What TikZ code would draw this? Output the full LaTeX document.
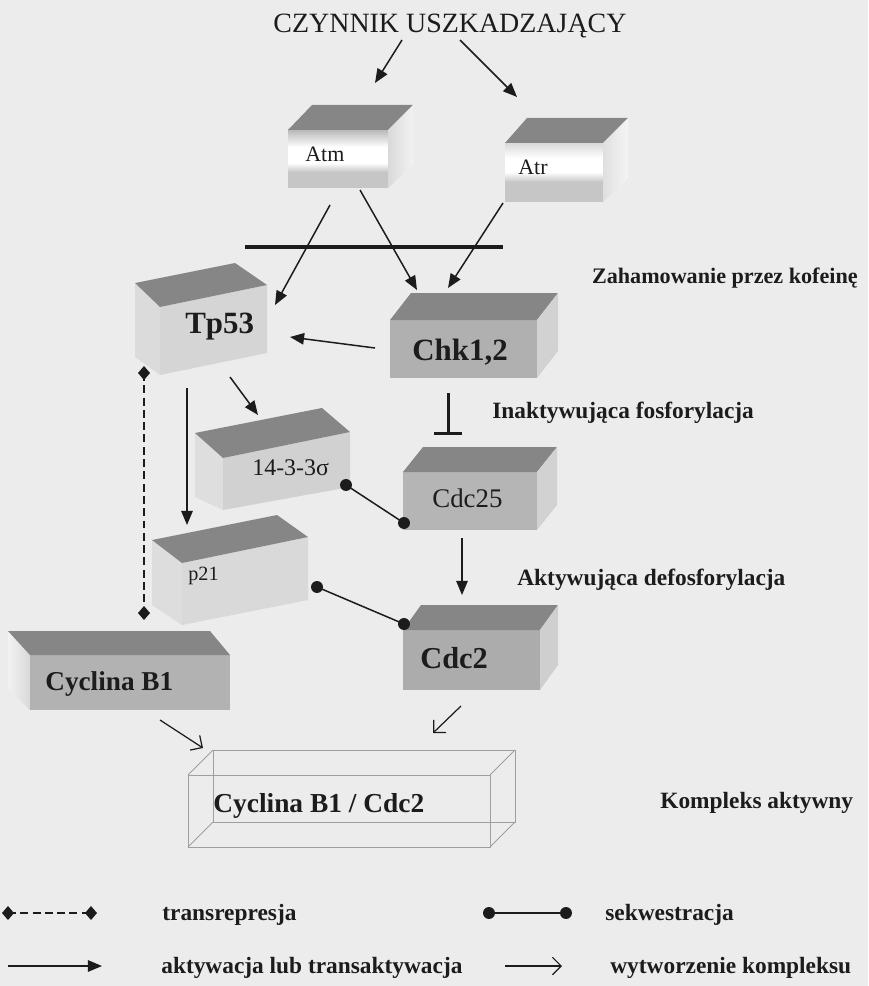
\documentclass[tikz,border=0pt]{standalone}
\usepackage{fontspec}
\setmainfont{Liberation Serif}
\usetikzlibrary{arrows.meta}
\definecolor{paper}{HTML}{ECECEC}
\definecolor{topc}{HTML}{868686}
\definecolor{ink}{HTML}{1C1C1C}
\newcommand{\fsz}[1]{\fontsize{#1}{#1}\selectfont}
% right-side cuboid: x1 y1 x2 y2 dx dy front side
\newcommand{\cubR}[8]{%
  \fill[#7] (#1,#2) rectangle (#3,#4);
  \fill[topc] (#1,#2) -- (#3,#2) -- ({#3+#5},{#2+#6}) -- ({#1+#5},{#2+#6}) -- cycle;
  \fill[#8] (#3,#2) -- ({#3+#5},{#2+#6}) -- ({#3+#5},{#4+#6}) -- (#3,#4) -- cycle;}
\begin{document}
\begin{tikzpicture}[x=0.02cm,y=-0.02cm,
  lbl/.style={inner sep=0pt, anchor=base west, text=ink},
  act/.style={draw=ink, line width=0.85pt, -{Triangle[length=8pt,width=6.5pt]}},
  cpx/.style={draw=ink, line width=0.7pt, -{Straight Barb[length=5pt,width=10pt]}},
  seqline/.style={draw=ink, line width=0.85pt},
  trans/.style={draw=ink, line width=0.8pt, dash pattern=on 4.5pt off 2.5pt},
  inhib/.style={draw=ink, line width=1.7pt, -{Bar[width=16pt]}},
  wire/.style={draw=gray!75, line width=0.45pt},
  rlab/.style={lbl, font=\fsz{13.3pt}\bfseries},
  dmd/.pic={\fill[ink] (0,-7) -- (6,0) -- (0,7) -- (-6,0) -- cycle;},
  dot/.pic={\fill[ink] (0,0) circle[radius=3.4pt];}
]
\fill[paper] (0,0) rectangle (868,986);
\useasboundingbox (0,0) rectangle (868,986);

% ---------- title ----------
\node[lbl, anchor=base] (title) at (450,33) {\fsz{15.9pt}CZYNNIK USZKADZAJĄCY};

% ---------- Atm ----------
\fill[white] (288,130) rectangle (388,188);
\shade[top color=gray!55, bottom color=white] (288,130) rectangle (388,147);
\shade[top color=white, bottom color=gray!45] (288,163) rectangle (388,172);
\fill[gray!45] (288,172) rectangle (388,188);
\fill[topc] (288,130) -- (388,130) -- (413,105) -- (312,105) -- cycle;
\shade[left color=gray!30, right color=gray!10] (388,130) -- (413,105) -- (413,165) -- (388,188) -- cycle;
\node[lbl, font=\fsz{12.5pt}] (atm) at (305,162) {Atm};

% ---------- Atr ----------
\fill[white] (505,143) rectangle (603,202);
\shade[top color=gray!30, bottom color=white] (505,143) rectangle (603,158);
\shade[top color=white, bottom color=gray!45] (505,172) rectangle (603,182);
\fill[gray!45] (505,182) rectangle (603,202);
\fill[topc] (505,143) -- (603,143) -- (628,118) -- (527,118) -- cycle;
\shade[left color=gray!25, right color=gray!8] (603,143) -- (628,118) -- (628,178) -- (603,202) -- cycle;
\node[lbl, font=\fsz{12.5pt}] (atr) at (518,175) {Atr};

% ---------- Tp53 (tilted) ----------
\fill[gray!28] (135,283) -- (160,307) -- (160,375) -- (135,357) -- cycle;
\fill[gray!33] (160,307) -- (267,285) -- (267,353) -- (160,375) -- cycle;
\fill[topc] (135,283) -- (235,263) -- (267,285) -- (160,307) -- cycle;
\node[lbl, font=\fsz{17.6pt}\bfseries] (tp53) at (185,333) {Tp53};

% ---------- Chk1,2 ----------
\cubR{390}{320}{537}{378}{21}{-27}{gray!62}{gray!35}
\node[lbl, font=\fsz{17.6pt}\bfseries] (chk) at (412,360) {Chk1,2};

% ---------- 14-3-3 sigma (tilted) ----------
\fill[gray!26] (195,433) -- (223,458) -- (223,510) -- (195,497) -- cycle;
\fill[gray!36] (223,458) -- (350,432) -- (350,487) -- (223,510) -- cycle;
\fill[topc] (195,433) -- (322,408) -- (350,432) -- (223,458) -- cycle;
\node[lbl, font=\fsz{13.6pt}] (s1433) at (252,475) {14-3-3σ};

% ---------- Cdc25 ----------
\cubR{403}{472}{537}{530}{20}{-25}{gray!58}{gray!35}
\node[lbl, font=\fsz{15.3pt}] (cdc25) at (432,507) {Cdc25};

% ---------- p21 (tilted) ----------
\fill[gray!27] (152,540) -- (182,563) -- (182,625) -- (152,605) -- cycle;
\fill[gray!30] (182,563) -- (308,537) -- (308,600) -- (182,625) -- cycle;
\fill[topc] (152,540) -- (277,515) -- (308,537) -- (182,563) -- cycle;
\node[lbl, font=\fsz{11.5pt}] (p21) at (188,580) {p21};

% ---------- Cdc2 ----------
\cubR{403}{630}{540}{690}{18}{-25}{gray!65}{gray!38}
\node[lbl, font=\fsz{17.3pt}\bfseries] (cdc2) at (420,668) {Cdc2};

% ---------- Cyclina B1 (depth to the left) ----------
\fill[gray!60] (30,655) rectangle (230,710);
\shade[left color=gray!10, right color=gray!30] (30,655) -- (8,631) -- (8,688) -- (30,710) -- cycle;
\fill[topc] (30,655) -- (230,655) -- (210,631) -- (8,631) -- cycle;
\node[lbl, font=\fsz{15.5pt}\bfseries] (cycb) at (45,690) {Cyclina B1};

% ---------- complex (wire box) ----------
\draw[wire] (213,750) rectangle (515,822);
\draw[wire] (188,775) rectangle (490,847);
\draw[wire] (188,775) -- (213,750) (490,775) -- (515,750)
            (490,847) -- (515,822) (188,847) -- (213,822);
\node[lbl, font=\fsz{15.6pt}\bfseries] (cpx) at (213,812) {Cyclina B1 / Cdc2};

% ---------- connector end points ----------
\coordinate (t1) at (402,40);  \coordinate (t1e) at (375,83);
\coordinate (t2) at (460,40);  \coordinate (t2e) at (517,97);
\coordinate (am1) at (330,205); \coordinate (tpN) at (275,305);
\coordinate (am2) at (360,190); \coordinate (chN1) at (417,290);
\coordinate (ar1) at (503,203); \coordinate (chN2) at (448,288);
\coordinate (barL) at (245,247); \coordinate (barR) at (503,247);
\coordinate (chW) at (375,348); \coordinate (tpE) at (290,337);
\coordinate (chS) at (448,393); \coordinate (c25N) at (448,435);
\coordinate (tpS1) at (230,377); \coordinate (sN) at (258,415);
\coordinate (tpS2) at (187,388); \coordinate (pN) at (187,525);
\coordinate (dA) at (144,373); \coordinate (dB) at (144,613);
\coordinate (sE) at (346,485); \coordinate (c25W) at (404,523);
\coordinate (pE) at (317,587); \coordinate (c2W) at (404,624);
\coordinate (c25S) at (462,538); \coordinate (c2N) at (462,595);
\coordinate (cyS) at (160,720); \coordinate (cxA) at (203,748);
\coordinate (c2S) at (461,706); \coordinate (cxB) at (433,733);

% ---------- connectors ----------
\draw[act] (t1) -- (t1e);
\draw[act] (t2) -- (t2e);
\draw[act] (am1) -- (tpN);
\draw[act] (am2) -- (chN1);
\draw[act] (ar1) -- (chN2);
\draw[ink, line width=2.3pt] (barL) -- (barR);
\draw[act] (chW) -- (tpE);
\draw[inhib] (chS) -- (c25N);
\draw[act] (tpS1) -- (sN);
\draw[act] (tpS2) -- (pN);
\draw[trans] (dA) -- (dB);
\pic at (dA) {dmd}; \pic at (dB) {dmd};
\draw[seqline] (sE) -- (c25W);
\pic at (sE) {dot}; \pic at (c25W) {dot};
\draw[seqline] (pE) -- (c2W);
\pic at (pE) {dot}; \pic at (c2W) {dot};
\draw[act] (c25S) -- (c2N);
\draw[cpx] (cyS) -- (cxA);
\draw[cpx] (c2S) -- (cxB);

% ---------- side labels ----------
\node[rlab, anchor=base east, font=\fsz{12.6pt}\bfseries] (zah) at (858,283) {Zahamowanie przez kofeinę};
\node[rlab] (inakt) at (492,418) {Inaktywująca fosforylacja};
\node[rlab] (akt) at (517,585) {Aktywująca defosforylacja};
\node[rlab] (komp) at (660,808) {Kompleks aktywny};

% ---------- legend ----------
\coordinate (l1a) at (8,913);   \coordinate (l1b) at (91,913);
\coordinate (l2a) at (489,913); \coordinate (l2b) at (566,913);
\coordinate (l3a) at (8,966);   \coordinate (l3b) at (102,966);
\coordinate (l4a) at (505,966); \coordinate (l4b) at (562,966);
\draw[trans] (l1a) -- (l1b);
\pic at (l1a) {dmd}; \pic at (l1b) {dmd};
\draw[seqline] (l2a) -- (l2b);
\pic at (l2a) {dot}; \pic at (l2b) {dot};
\draw[act] (l3a) -- (l3b);
\draw[cpx] (l4a) -- (l4b);
\node[rlab] (lg1) at (162,920) {transrepresja};
\node[rlab] (lg2) at (605,920) {sekwestracja};
\node[rlab] (lg3) at (161,973) {aktywacja lub transaktywacja};
\node[rlab] (lg4) at (610,973) {wytworzenie kompleksu};
\end{tikzpicture}
\end{document}
